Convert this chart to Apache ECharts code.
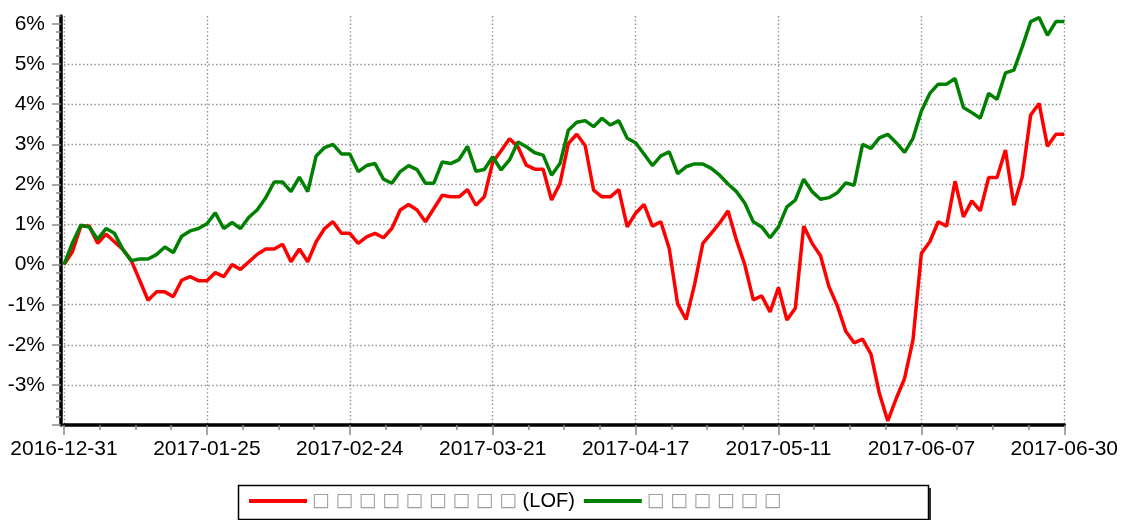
<!DOCTYPE html>
<html>
<head>
<meta charset="utf-8">
<script src="https://cdn.jsdelivr.net/npm/echarts@6/dist/echarts.min.js"></script>
<style>html,body{margin:0;padding:0;background:#fff;}#c{width:1121px;height:520px;}</style>
</head>
<body>
<div id="c"></div>
<script>
// Trading dates (categories)
const dates = [
'2016-12-31',
'2017-01-03','2017-01-04','2017-01-05','2017-01-06','2017-01-09','2017-01-10','2017-01-11','2017-01-12','2017-01-13','2017-01-16','2017-01-17','2017-01-18','2017-01-19','2017-01-20','2017-01-23','2017-01-24','2017-01-25','2017-01-26',
'2017-02-03','2017-02-06','2017-02-07','2017-02-08','2017-02-09','2017-02-10','2017-02-13','2017-02-14','2017-02-15','2017-02-16','2017-02-17','2017-02-20','2017-02-21','2017-02-22','2017-02-23','2017-02-24','2017-02-27','2017-02-28',
'2017-03-01','2017-03-02','2017-03-03','2017-03-06','2017-03-07','2017-03-08','2017-03-09','2017-03-10','2017-03-13','2017-03-14','2017-03-15','2017-03-16','2017-03-17','2017-03-20','2017-03-21','2017-03-22','2017-03-23','2017-03-24','2017-03-27','2017-03-28','2017-03-29','2017-03-30','2017-03-31',
'2017-04-05','2017-04-06','2017-04-07','2017-04-10','2017-04-11','2017-04-12','2017-04-13','2017-04-14','2017-04-17','2017-04-18','2017-04-19','2017-04-20','2017-04-21','2017-04-24','2017-04-25','2017-04-26','2017-04-27','2017-04-28',
'2017-05-02','2017-05-03','2017-05-04','2017-05-05','2017-05-08','2017-05-09','2017-05-10','2017-05-11','2017-05-12','2017-05-15','2017-05-16','2017-05-17','2017-05-18','2017-05-19','2017-05-22','2017-05-23','2017-05-24','2017-05-25','2017-05-26','2017-05-31',
'2017-06-01','2017-06-02','2017-06-05','2017-06-06','2017-06-07','2017-06-08','2017-06-09','2017-06-12','2017-06-13','2017-06-14','2017-06-15','2017-06-16','2017-06-19','2017-06-20','2017-06-21','2017-06-22','2017-06-23','2017-06-26','2017-06-27','2017-06-28','2017-06-29','2017-06-30'
];

// Series values (% cumulative return)
const fundValues = [
0, 0.32, 0.96, 0.96, 0.53, 0.76, 0.57, 0.38, 0.10, -0.39,
-0.89, -0.68, -0.68, -0.80, -0.39, -0.30, -0.40, -0.40, -0.20, -0.30,
0.0, -0.12, 0.07, 0.26, 0.39, 0.39, 0.51, 0.07, 0.39, 0.07,
0.57, 0.90, 1.07, 0.78, 0.78, 0.53, 0.69, 0.78, 0.67, 0.90,
1.36, 1.50, 1.36, 1.07, 1.40, 1.73, 1.69, 1.69, 1.87, 1.48,
1.69, 2.55, 2.84, 3.14, 2.94, 2.48, 2.38, 2.38, 1.61, 2.02,
3.02, 3.25, 2.97, 1.86, 1.69, 1.69, 1.87, 0.94, 1.28, 1.50,
0.96, 1.07, 0.40, -0.98, -1.37, -0.51, 0.53, 0.78, 1.04, 1.34,
0.61, -0.01, -0.88, -0.78, -1.18, -0.57, -1.38, -1.09, 0.96, 0.53,
0.22, -0.55, -1.03, -1.66, -1.95, -1.86, -2.23, -3.21, -3.90, -3.34,
-2.84, -1.88, 0.28, 0.57, 1.07, 0.96, 2.08, 1.19, 1.59, 1.34,
2.17, 2.17, 2.86, 1.48, 2.19, 3.73, 4.02, 2.95, 3.25, 3.25
];
const benchValues = [
0, 0.54, 0.98, 0.94, 0.63, 0.90, 0.78, 0.38, 0.10, 0.14,
0.14, 0.25, 0.44, 0.30, 0.71, 0.84, 0.90, 1.02, 1.29, 0.90,
1.05, 0.90, 1.18, 1.37, 1.67, 2.06, 2.06, 1.82, 2.18, 1.82,
2.71, 2.92, 3.00, 2.76, 2.76, 2.32, 2.47, 2.52, 2.13, 2.03,
2.32, 2.47, 2.37, 2.03, 2.03, 2.56, 2.52, 2.62, 2.95, 2.33,
2.37, 2.69, 2.36, 2.61, 3.06, 2.94, 2.79, 2.73, 2.23, 2.52,
3.35, 3.55, 3.59, 3.44, 3.65, 3.48, 3.59, 3.15, 3.04, 2.76,
2.47, 2.71, 2.81, 2.27, 2.44, 2.51, 2.51, 2.40, 2.23, 2.01,
1.82, 1.53, 1.07, 0.94, 0.67, 0.94, 1.44, 1.61, 2.13, 1.82,
1.63, 1.67, 1.79, 2.04, 1.98, 3.00, 2.90, 3.16, 3.25, 3.04,
2.80, 3.15, 3.83, 4.27, 4.50, 4.50, 4.64, 3.92, 3.79, 3.65,
4.27, 4.12, 4.78, 4.85, 5.43, 6.06, 6.16, 5.72, 6.06, 6.06
];

// Series names (glyphs shown as missing-glyph boxes in the reference)
const fundName = '□□□□□□□□□(LOF)';
const benchName = '□□□□□□';

// Axis ticks
const yTickValues = [-4, -3, -2, -1, 0, 1, 2, 3, 4, 5, 6];
const yLabelValues = [-3, -2, -1, 0, 1, 2, 3, 4, 5, 6];

const chart = echarts.init(document.getElementById('c'), null, {renderer: 'canvas'});
const FONT = 'Liberation Sans, Arial, sans-serif';
const gridLine = {show: true, lineStyle: {color: '#8c8c8c', width: 1.4, type: [1.4, 2.4]}};

function legendFmt(name) {
  let out = '';
  let buf = '';
  for (const ch of name) {
    if (ch === '□') {
      if (buf) { out += '{t|' + buf + '}'; buf = ''; }
      out += '{b|□}';
    } else buf += ch;
  }
  if (buf) out += '{t|' + buf + '}';
  return out;
}

chart.setOption({
  animation: false,
  backgroundColor: '#fff',
  grid: {left: 64, right: 55, top: 16, bottom: 95, containLabel: false},
  graphic: [{
    type: 'rect', z: -2,
    shape: {x: 241, y: 488, width: 690, height: 34},
    style: {fill: '#333'}
  }, {
    type: 'rect', z: -1,
    shape: {x: 238.5, y: 485.5, width: 690, height: 34},
    style: {fill: '#fff', stroke: '#000', lineWidth: 1.5}
  }],
  legend: {
    left: 249, top: 491, padding: 0, itemGap: 9,
    itemWidth: 58, itemHeight: 4, icon: 'rect',
    formatter: legendFmt,
    textStyle: {
      fontFamily: FONT, fontSize: 20, color: '#000',
      rich: {
        b: {fontFamily: 'DejaVu Sans', fontSize: 19, color: '#a0a0a0', width: 23.4, align: 'left'},
        t: {fontFamily: FONT, fontSize: 20, color: '#000'}
      }
    },
    data: [fundName, benchName]
  },
  xAxis: {
    type: 'value', min: 0, max: dates.length - 1, interval: 17,
    axisLine: {show: true, onZero: false, lineStyle: {color: '#000', width: 3.5}},
    axisTick: {show: true, length: 10, lineStyle: {color: '#8a8a8a', width: 1.5}},
    minorTick: {show: true, splitNumber: 4, length: 5, lineStyle: {color: '#8a8a8a', width: 1.5}},
    axisLabel: {
      margin: 14, fontFamily: FONT, fontSize: 21, color: '#000',
      formatter: v => dates[Math.round(v)] || ''
    },
    splitLine: gridLine
  },
  yAxis: [{
    type: 'value', min: -4, max: 6.2, interval: 1, offset: 3,
    axisLine: {show: true, onZero: false, lineStyle: {color: '#000', width: 3.5}},
    axisTick: {show: true, length: 9, customValues: yTickValues, lineStyle: {color: '#8a8a8a', width: 1.5}},
    axisLabel: {
      margin: 16, fontFamily: FONT, fontSize: 21, color: '#000',
      customValues: yLabelValues,
      formatter: v => (Math.abs(v - Math.round(v)) < 1e-6 && v > -3.5) ? Math.round(v) + '%' : ''
    },
    splitLine: Object.assign({showMaxLine: false, showMinLine: false}, gridLine)
  }, {
    type: 'value', min: -4, max: 6.2, interval: 0.2, offset: 3, position: 'left',
    axisLine: {show: false, onZero: false},
    axisTick: {show: true, length: 5, lineStyle: {color: '#8a8a8a', width: 1.5}},
    axisLabel: {show: false},
    splitLine: {show: false}
  }],
  series: [{
    name: fundName, type: 'line', yAxisIndex: 0,
    data: fundValues.map((v, i) => [i, v]),
    showSymbol: false, symbol: 'none',
    lineStyle: {color: '#ff0000', width: 3.5},
    itemStyle: {color: '#ff0000'}
  }, {
    name: benchName, type: 'line', yAxisIndex: 0,
    data: benchValues.map((v, i) => [i, v]),
    showSymbol: false, symbol: 'none',
    lineStyle: {color: '#008000', width: 3.5},
    itemStyle: {color: '#008000'}
  }]
});
</script>
</body>
</html>
